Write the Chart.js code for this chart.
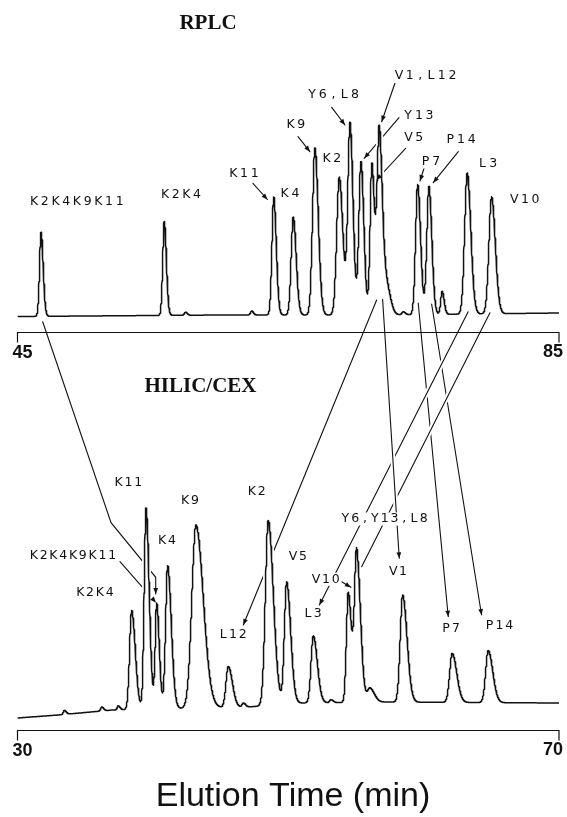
<!DOCTYPE html>
<html>
<head>
<meta charset="utf-8">
<script src="https://cdn.jsdelivr.net/npm/chart.js@4/dist/chart.umd.min.js"></script>
<style>
  html, body { margin: 0; padding: 0; background: #ffffff; }
  canvas { display: block; }
</style>
</head>
<body>
<canvas id="chrom" width="567" height="817"></canvas>
<script>
// ---------------- RPLC run (upper trace) ----------------
// retention time (min), peak height above baseline (detector units), peak width at half height (min)
const rplcPeakNames = ['K2K4K9K11', 'K2K4', '', '', 'K11', 'K4', 'K9', 'K2', 'Y6,L8', 'Y13', 'V5', 'V1,L12', '', '', 'P7', 'P14', '', 'L3', 'V10'];
const rplcTimes     = [46.74, 55.84, 57.42, 62.30, 63.93, 65.37, 66.97, 68.77, 69.56, 70.37, 71.18, 71.72, 72.25, 73.50, 74.56, 75.39, 76.37, 78.22, 80.02];
const rplcHeights   = [84, 94, 3, 4, 118, 98, 167, 138, 191, 153, 151, 186, 30, 3, 130, 128, 23, 141, 117];
const rplcWidths    = [0.32, 0.32, 0.25, 0.25, 0.38, 0.44, 0.50, 0.54, 0.46, 0.44, 0.38, 0.46, 0.60, 0.30, 0.44, 0.44, 0.30, 0.54, 0.56];
const rplcBaseTimes  = [45, 60, 72, 85];
const rplcBaseLevels = [-1.5, 0, 0, 2];
const rplcTicks = [45, 85];

// ---------------- HILIC/CEX run (lower trace) ----------------
const hilicPeakNames = ['', '', '', 'K2K4', 'K11', 'K2K4K9K11', 'K4', 'K9', 'L12', '', 'K2', 'V5', 'L3', '', 'V10', 'Y6,Y13,L8', '', 'V1', 'P7', 'P14'];
const hilicTimes     = [33.46, 36.22, 37.44, 38.43, 39.49, 40.28, 41.09, 43.18, 45.57, 46.68, 48.52, 49.88, 51.85, 53.15, 54.43, 55.05, 56.03, 58.45, 62.11, 64.77];
const hilicHeights   = [4, 4, 4, 99, 201, 105, 143, 183, 41, 4, 185, 122, 67, 3, 110, 150, 14, 107, 49, 52];
const hilicWidths    = [0.25, 0.25, 0.25, 0.50, 0.44, 0.36, 0.50, 1.00, 0.56, 0.30, 0.70, 0.55, 0.55, 0.30, 0.45, 0.52, 0.60, 0.60, 0.62, 0.62];
const hilicBaseTimes  = [30, 33, 37, 40, 47, 51, 57, 70];
const hilicBaseLevels = [0, 3, 8, 9, 11, 15, 16, 15];
const hilicTicks = [30, 70];

// ---------------- page layout ----------------
const W = 567, H = 817;
const LAYOUT = {
  topBaselinePx: 315,   // canvas row of the RPLC baseline
  botBaselinePx: 718,   // canvas row of the HILIC/CEX baseline at t = 30
  topAxisGap: 17,       // time axis drawn this far below the baseline
  botAxisGap: 12,
  tickLen: 10
};
const INK = '#111111';
const TAIL = { top: 1.4, bot: 1.8 };   // right/left half-width ratio (peak tailing)

// baseline level at time t from the drift anchors
function baseAt(t, bt, bv) {
  if (t <= bt[0]) return bv[0];
  for (let i = 1; i < bt.length; i++) {
    if (t <= bt[i]) {
      const f = (t - bt[i - 1]) / (bt[i] - bt[i - 1]);
      return bv[i - 1] + f * (bv[i] - bv[i - 1]);
    }
  }
  return bv[bv.length - 1];
}

// detector trace = baseline + sum of (slightly tailing) peaks from the peak table
function buildTrace(times, heights, widths, bt, bv, t0, t1, tail) {
  const pts = [];
  const step = 0.01;
  const n = Math.round((t1 - t0) / step);
  for (let i = 0; i <= n; i++) {
    const t = t0 + i * step;
    let v = baseAt(t, bt, bv);
    for (let k = 0; k < times.length; k++) {
      const sL = widths[k] / (1.1774 * (1 + tail));
      const sR = sL * tail;
      const d = t - times[k];
      const s = d < 0 ? sL : sR;
      v += heights[k] * Math.exp(-d * d / (2 * s * s));
    }
    pts.push({ x: +t.toFixed(2), y: v });
  }
  return pts;
}

const rplcTrace  = buildTrace(rplcTimes, rplcHeights, rplcWidths, rplcBaseTimes, rplcBaseLevels, rplcTicks[0], rplcTicks[1], TAIL.top);
const hilicTrace = buildTrace(hilicTimes, hilicHeights, hilicWidths, hilicBaseTimes, hilicBaseLevels, hilicTicks[0], hilicTicks[1], TAIL.bot);

// ---------------- peak annotations (text centre / leader points in panel data units) ----------------
const rplcLabels = [
  ['K2K4K9K11', 49.39, 113.3], ['K2K4', 57.08, 120], ['K11', 61.73, 141.7], ['K4', 65.13, 121.7],
  ['K9', 65.57, 190], ['K2', 68.23, 156], ['Y6,L8', 68.34, 220.5], ['V1,L12', 75.15, 239],
  ['Y13', 74.65, 199.5], ['V5', 74.28, 177], ['P7', 75.54, 153], ['P14', 77.76, 175],
  ['L3', 79.75, 151], ['V10', 82.48, 115]
];
const rplcPointers = [
  [[62.39, 131.7], [63.46, 115.5]],
  [[65.72, 178.3], [66.60, 163.3]],
  [[68.21, 207.7], [69.19, 190]],
  [[72.88, 231.7], [71.90, 193.3]],
  [[73.18, 197.3], [70.61, 156.7]],
  [[73.67, 166.7], [71.51, 135]],
  [[75.06, 148], [74.73, 134]],
  [[77.56, 163.3], [75.71, 132.3]]
];
const hilicLabels = [
  ['K11', 38.20, 235.3], ['K9', 42.74, 217], ['K2', 47.67, 226.3], ['K4', 41.04, 177.3],
  ['K2K4K9K11', 34.10, 162], ['K2K4', 35.72, 125.7], ['L12', 45.92, 83], ['V5', 50.72, 161.3],
  ['Y6,Y13,L8', 57.12, 199], ['V10', 52.78, 138.7], ['L3', 51.82, 104], ['V1', 58.12, 146.3],
  ['P7', 62.02, 89], ['P14', 65.60, 92.3]
];
const hilicPointers = [
  [[37.57, 156.3], [40.23, 115.3]],
  [[53.94, 136.3], [54.63, 130.7]]
];
// leader lines joining the same component in the two runs ('top' = RPLC, 'bot' = HILIC/CEX)
const connectors = [
  { pts: [['top', 46.86, -6.7], ['bot', 36.91, 195.3], ['bot', 40.21, 140.7], ['bot', 40.21, 124]], head: true, layer: 0 },
  { pts: [['top', 71.53, 15], ['bot', 46.68, 93]], head: true, layer: 0 },
  { pts: [['top', 74.60, 12], ['bot', 61.82, 101.3]], head: true, layer: 0 },
  { pts: [['top', 75.59, 11], ['bot', 64.28, 103]], head: true, layer: 0 },
  { pts: [['top', 78.29, 3.3], ['bot', 52.30, 113]], head: true, layer: 1 },
  { pts: [['top', 79.90, 2.3], ['bot', 55.42, 151.3]], head: false, layer: 1 },
  { pts: [['top', 71.97, 15.7], ['bot', 58.20, 159.7]], head: true, layer: 2 }
];

// ---------------- drawing helpers ----------------
function toPx(chart, panel, t, v) {
  const xs = chart.scales[panel === 'top' ? 'xTop' : 'xBot'];
  const ys = chart.scales[panel === 'top' ? 'yTop' : 'yBot'];
  return [xs.getPixelForValue(t), ys.getPixelForValue(v)];
}
function strokePath(ctx, pts, halo) {
  if (halo) {
    ctx.save();
    ctx.strokeStyle = '#ffffff';
    ctx.lineWidth = 5;
    ctx.beginPath();
    pts.forEach((p, i) => i ? ctx.lineTo(p[0], p[1]) : ctx.moveTo(p[0], p[1]));
    ctx.stroke();
    ctx.restore();
  }
  ctx.beginPath();
  pts.forEach((p, i) => i ? ctx.lineTo(p[0], p[1]) : ctx.moveTo(p[0], p[1]));
  ctx.stroke();
}
function arrowHead(ctx, a, b) {
  const ang = Math.atan2(b[1] - a[1], b[0] - a[0]);
  const L = 6, Wd = 2.4;
  const c = Math.cos(ang), s = Math.sin(ang);
  ctx.beginPath();
  ctx.moveTo(b[0], b[1]);
  ctx.lineTo(b[0] - L * c + Wd * s, b[1] - L * s - Wd * c);
  ctx.lineTo(b[0] - L * c - Wd * s, b[1] - L * s + Wd * c);
  ctx.closePath();
  ctx.fill();
}
// plotter-style lettering: fixed pitch per character
function plotterText(ctx, text, cx, cy, pitch) {
  const w = text.length * pitch;
  ctx.save();
  ctx.fillStyle = '#ffffff';
  ctx.fillRect(cx - w / 2 - 1, cy - 6.5, w + 2, 13);
  ctx.restore();
  let x = cx - w / 2 + pitch / 2;
  for (const ch of text) { ctx.fillText(ch, x, cy); x += pitch; }
}
function drawAxis(ctx, xs, ys, ticks, gap) {
  const y = Math.round(ys.getPixelForValue(0) + gap) + 0.5;
  const x0 = xs.getPixelForValue(ticks[0]);
  const x1 = xs.getPixelForValue(ticks[ticks.length - 1]);
  ctx.lineWidth = 1.2;
  ctx.beginPath();
  ctx.moveTo(x0, y + LAYOUT.tickLen); ctx.lineTo(x0, y);
  ctx.lineTo(x1, y); ctx.lineTo(x1, y + LAYOUT.tickLen);
  ctx.stroke();
  ctx.font = "bold 18px 'Liberation Sans', Arial, sans-serif";
  ctx.textBaseline = 'middle';
  ctx.textAlign = 'center';
  ctx.fillText(String(ticks[0]), x0 + 5, y + 21);
  ctx.fillText(String(ticks[ticks.length - 1]), x1 - 6, y + 20);
}

const plotterPlugin = {
  id: 'plotter',
  beforeDatasetsDraw(chart) {
    const ctx = chart.ctx;
    ctx.save();
    ctx.strokeStyle = INK;
    ctx.lineWidth = 1.1;
    ctx.lineCap = 'round';
    for (const layer of [0, 1, 2]) {
      connectors.filter(c => c.layer === layer).forEach(c => {
        strokePath(ctx, c.pts.map(p => toPx(chart, p[0], p[1], p[2])), layer > 0);
      });
    }
    rplcPointers.forEach(p => strokePath(ctx, p.map(q => toPx(chart, 'top', q[0], q[1])), false));
    hilicPointers.forEach(p => strokePath(ctx, p.map(q => toPx(chart, 'bot', q[0], q[1])), false));
    ctx.restore();
  },
  afterDatasetsDraw(chart) {
    const ctx = chart.ctx;
    ctx.save();
    ctx.fillStyle = INK;
    ctx.strokeStyle = INK;
    // arrow heads
    connectors.filter(c => c.head).forEach(c => {
      const n = c.pts.length;
      const a = c.pts[n - 2], b = c.pts[n - 1];
      arrowHead(ctx, toPx(chart, a[0], a[1], a[2]), toPx(chart, b[0], b[1], b[2]));
    });
    rplcPointers.forEach(p => arrowHead(ctx, toPx(chart, 'top', p[0][0], p[0][1]), toPx(chart, 'top', p[1][0], p[1][1])));
    hilicPointers.forEach(p => arrowHead(ctx, toPx(chart, 'bot', p[0][0], p[0][1]), toPx(chart, 'bot', p[1][0], p[1][1])));

    // peak names
    ctx.font = "12.5px 'DejaVu Sans', sans-serif";
    ctx.textAlign = 'center';
    ctx.textBaseline = 'middle';
    rplcLabels.forEach(l => { const p = toPx(chart, 'top', l[1], l[2]); plotterText(ctx, l[0], p[0], p[1], 10.7); });
    hilicLabels.forEach(l => { const p = toPx(chart, 'bot', l[1], l[2]); plotterText(ctx, l[0], p[0], p[1], 9.8); });

    // time axes
    drawAxis(ctx, chart.scales.xTop, chart.scales.yTop, rplcTicks, LAYOUT.topAxisGap);
    drawAxis(ctx, chart.scales.xBot, chart.scales.yBot, hilicTicks, LAYOUT.botAxisGap);

    // panel titles and axis title
    ctx.textAlign = 'center';
    ctx.textBaseline = 'middle';
    ctx.font = "bold 21px 'Liberation Serif', 'Times New Roman', serif";
    ctx.fillText('RPLC', 208, 24);
    ctx.fillText('HILIC/CEX', 200.5, 387);
    ctx.font = "34px 'Liberation Sans', Arial, sans-serif";
    ctx.fillText('Elution Time (min)', 293, 797);
    ctx.restore();
  }
};

const traceStyle = { pointRadius: 0, tension: 0, borderJoinStyle: 'round', fill: false };

new Chart(document.getElementById('chrom'), {
  type: 'line',
  data: {
    datasets: [
      { ...traceStyle, label: 'RPLC', data: rplcTrace, xAxisID: 'xTop', yAxisID: 'yTop', borderColor: INK, borderWidth: 1.5, order: 1 },
      { ...traceStyle, label: 'HILIC/CEX', data: hilicTrace, xAxisID: 'xBot', yAxisID: 'yBot', borderColor: INK, borderWidth: 1.5, order: 1 },
      { ...traceStyle, label: 'RPLC clearance', data: rplcTrace, xAxisID: 'xTop', yAxisID: 'yTop', borderColor: '#ffffff', borderWidth: 5, order: 2 },
      { ...traceStyle, label: 'HILIC/CEX clearance', data: hilicTrace, xAxisID: 'xBot', yAxisID: 'yBot', borderColor: '#ffffff', borderWidth: 5, order: 2 }
    ]
  },
  options: {
    responsive: false,
    devicePixelRatio: 1,
    animation: false,
    events: [],
    layout: { padding: { left: 17.5, right: 8, top: 0, bottom: 0 } },
    plugins: { legend: { display: false }, tooltip: { enabled: false }, title: { display: false } },
    scales: {
      xTop: { type: 'linear', axis: 'x', position: 'bottom', min: rplcTicks[0], max: rplcTicks[1], display: false },
      xBot: { type: 'linear', axis: 'x', position: 'bottom', min: hilicTicks[0], max: hilicTicks[1], display: false },
      yTop: { type: 'linear', axis: 'y', position: 'left', min: LAYOUT.topBaselinePx - H, max: LAYOUT.topBaselinePx, display: false },
      yBot: { type: 'linear', axis: 'y', position: 'left', min: LAYOUT.botBaselinePx - H, max: LAYOUT.botBaselinePx, display: false }
    }
  },
  plugins: [plotterPlugin]
});
</script>
</body>
</html>
